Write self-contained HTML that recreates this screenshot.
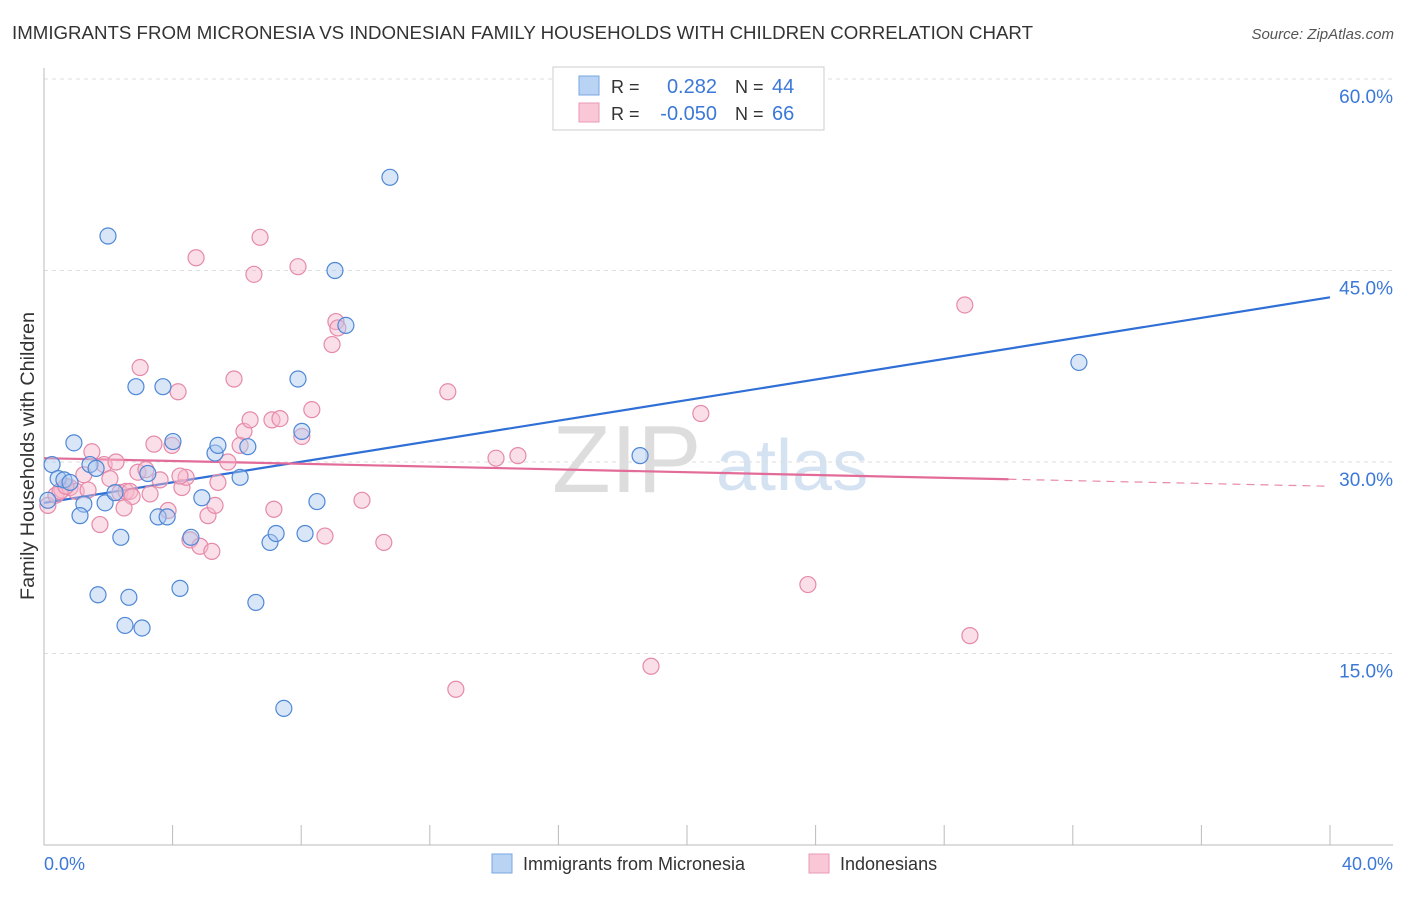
<!DOCTYPE html>
<html><head><meta charset="utf-8"><style>
body{margin:0;background:#fff;font-family:"Liberation Sans",sans-serif;}
svg text{font-family:"Liberation Sans",sans-serif;}
</style></head><body>
<svg id="chart" width="1406" height="892" xmlns="http://www.w3.org/2000/svg">
<text x="12" y="39" font-size="18" fill="#333" textLength="1021" lengthAdjust="spacingAndGlyphs">IMMIGRANTS FROM MICRONESIA VS INDONESIAN FAMILY HOUSEHOLDS WITH CHILDREN CORRELATION CHART</text>
<text x="1394" y="39" font-size="15" fill="#555" font-style="italic" text-anchor="end">Source: ZipAtlas.com</text>
<text x="552" y="492" font-size="96" fill="#ddd" font-family="Liberation Serif">ZIP</text>
<text x="716" y="490" font-size="72" fill="#d4e2f2">atlas</text>
<g id="grid"></g><g id="axes"></g><g id="lines"></g><g id="pts"></g>
<text transform="translate(34,456) rotate(-90)" font-size="19" fill="#333" text-anchor="middle" textLength="288" lengthAdjust="spacingAndGlyphs">Family Households with Children</text>
<text x="44" y="870" font-size="18" fill="#3b78d8">0.0%</text>
<text x="1393" y="870" font-size="18" fill="#3b78d8" text-anchor="end">40.0%</text>
<g>
<rect x="553" y="67" width="271" height="63" fill="#fff" stroke="#ccc"/>
<rect x="579" y="76" width="20" height="19" fill="#b8d3f3" stroke="#7aa7e0"/>
<rect x="579" y="103" width="20" height="19" fill="#f9c7d6" stroke="#e99ab5"/>
<text x="611" y="93" font-size="18" fill="#333">R =</text><text x="717" y="93" font-size="20" fill="#3b78d8" text-anchor="end">0.282</text>
<text x="735" y="93" font-size="18" fill="#333">N =</text><text x="772" y="93" font-size="20" fill="#3b78d8">44</text>
<text x="611" y="120" font-size="18" fill="#333">R =</text><text x="717" y="120" font-size="20" fill="#3b78d8" text-anchor="end">-0.050</text>
<text x="735" y="120" font-size="18" fill="#333">N =</text><text x="772" y="120" font-size="20" fill="#3b78d8">66</text>
</g>
<g>
<rect x="492" y="854" width="20" height="19" fill="#b8d3f3" stroke="#7aa7e0"/>
<text x="523" y="870" font-size="18" fill="#333">Immigrants from Micronesia</text>
<rect x="809" y="854" width="20" height="19" fill="#f9c7d6" stroke="#e99ab5"/>
<text x="840" y="870" font-size="18" fill="#333">Indonesians</text>
</g>
</svg>
<script>
const yTicks=[15,30,45,60];
const yTickLabels=["15.0%","30.0%","45.0%","60.0%"];
const xTicks=[0,4,8,12,16,20,24,28,32,36,40];
const blueX=[0.25,0.93,0.44,0.62,0.81,1.43,1.62,1.24,1.12,1.90,2.21,1.99,2.86,3.70,4.01,3.23,2.39,1.68,2.64,2.52,3.05,3.55,3.83,4.23,4.57,4.91,5.32,5.41,6.10,6.34,6.59,7.03,7.22,7.46,7.90,8.02,8.12,8.49,9.05,9.39,10.76,18.54,32.19,0.12];
const blueY=[29.8,31.5,28.7,28.6,28.4,29.8,29.5,26.7,25.8,26.8,27.6,47.7,35.9,35.9,31.6,29.1,24.1,19.6,19.4,17.2,17.0,25.7,25.7,20.1,24.1,27.2,30.7,31.3,28.8,31.2,19.0,23.7,24.4,10.7,36.5,32.4,24.4,26.9,45.0,40.7,52.3,30.5,37.8,27.0];
const pinkX=[0.12,0.37,0.56,0.81,1.00,1.24,1.49,1.74,1.87,2.05,2.24,2.36,2.55,2.67,2.92,2.99,3.30,3.42,3.17,3.61,3.86,3.98,4.17,4.29,4.42,4.54,4.73,4.85,5.10,5.22,5.32,5.41,5.72,5.91,6.10,6.22,6.41,6.53,6.72,7.09,7.15,7.34,7.90,8.02,8.33,8.74,8.96,9.08,9.14,9.89,10.57,12.56,12.81,14.06,14.74,18.88,20.43,23.76,28.64,28.80,0.50,0.68,1.37,2.74,2.49,4.23];
const pinkY=[26.6,27.4,27.8,28.0,27.7,29.0,30.8,25.1,29.8,28.7,30.0,27.6,27.7,27.7,29.2,37.4,27.5,31.4,29.4,28.6,26.2,31.3,35.5,28.0,28.8,23.9,46.0,23.4,25.8,23.0,26.6,28.4,30.0,36.5,31.3,32.4,33.3,44.7,47.6,33.3,26.3,33.4,45.3,32.0,34.1,24.2,39.2,41.0,40.5,27.0,23.7,35.5,12.2,30.3,30.5,14.0,33.8,20.4,42.3,16.4,27.7,28.1,27.8,27.3,26.4,28.9];
const blueTrend=[26.8,42.9];
const pinkTrend=[30.3,28.1];
const pinkSolidEnd=30;
const NS="http://www.w3.org/2000/svg";
const xs=v=>44+v/40*1286;
const ys=v=>845-v/15*191.5;
function mk(tag,attrs,parent){const e=document.createElementNS(NS,tag);for(const k in attrs)e.setAttribute(k,attrs[k]);document.getElementById(parent).appendChild(e);return e;}
yTicks.forEach((t,i)=>{
 const l=mk('line',{x1:44,x2:1393,y1:ys(t),y2:ys(t),stroke:'#ddd','stroke-dasharray':'4,4'},'grid');
 
 
 const tx=mk('text',{x:1393,y:ys(t)+24,'font-size':19,fill:'#3b78d8','text-anchor':'end'},'grid');
 tx.textContent=yTickLabels[i];
 
 
});
const ax=mk('line',{x1:44,x2:44,y1:68,y2:845,stroke:'#bbb'},'axes');


const bx=mk('line',{x1:44,x2:1393,y1:845,y2:845,stroke:'#bbb'},'axes');


xTicks.forEach(t=>{
 const l=mk('line',{x1:xs(t),x2:xs(t),y1:825,y2:845,stroke:'#bbb'},'axes');
 
 
});
function drawPts(X,Y,fill,stroke,name){X.forEach((x,i)=>{
 const c=mk('circle',{cx:xs(x),cy:ys(Y[i]),r:8,fill:fill,'fill-opacity':0.45,stroke:stroke,'stroke-width':1.2},'pts');
 
 
});}
drawPts(pinkX,pinkY,'#f6b9cc','#e58aa8','indonesians-point');
drawPts(blueX,blueY,'#a9c8ef','#4f87d6','micronesia-point');
const bl=mk('line',{x1:xs(0),y1:ys(blueTrend[0]),x2:xs(40),y2:ys(blueTrend[1]),stroke:'#2f6fd6','stroke-width':2.2},'lines');


const pm=pinkTrend[0]+(pinkTrend[1]-pinkTrend[0])*pinkSolidEnd/40;
const pl=mk('line',{x1:xs(0),y1:ys(pinkTrend[0]),x2:xs(pinkSolidEnd),y2:ys(pm),stroke:'#e36b98','stroke-width':2.2},'lines');


const pd=mk('line',{x1:xs(pinkSolidEnd),y1:ys(pm),x2:xs(40),y2:ys(pinkTrend[1]),stroke:'#e88aaa','stroke-width':1.2,'stroke-dasharray':'8,6'},'lines');


</script>
</body></html>
